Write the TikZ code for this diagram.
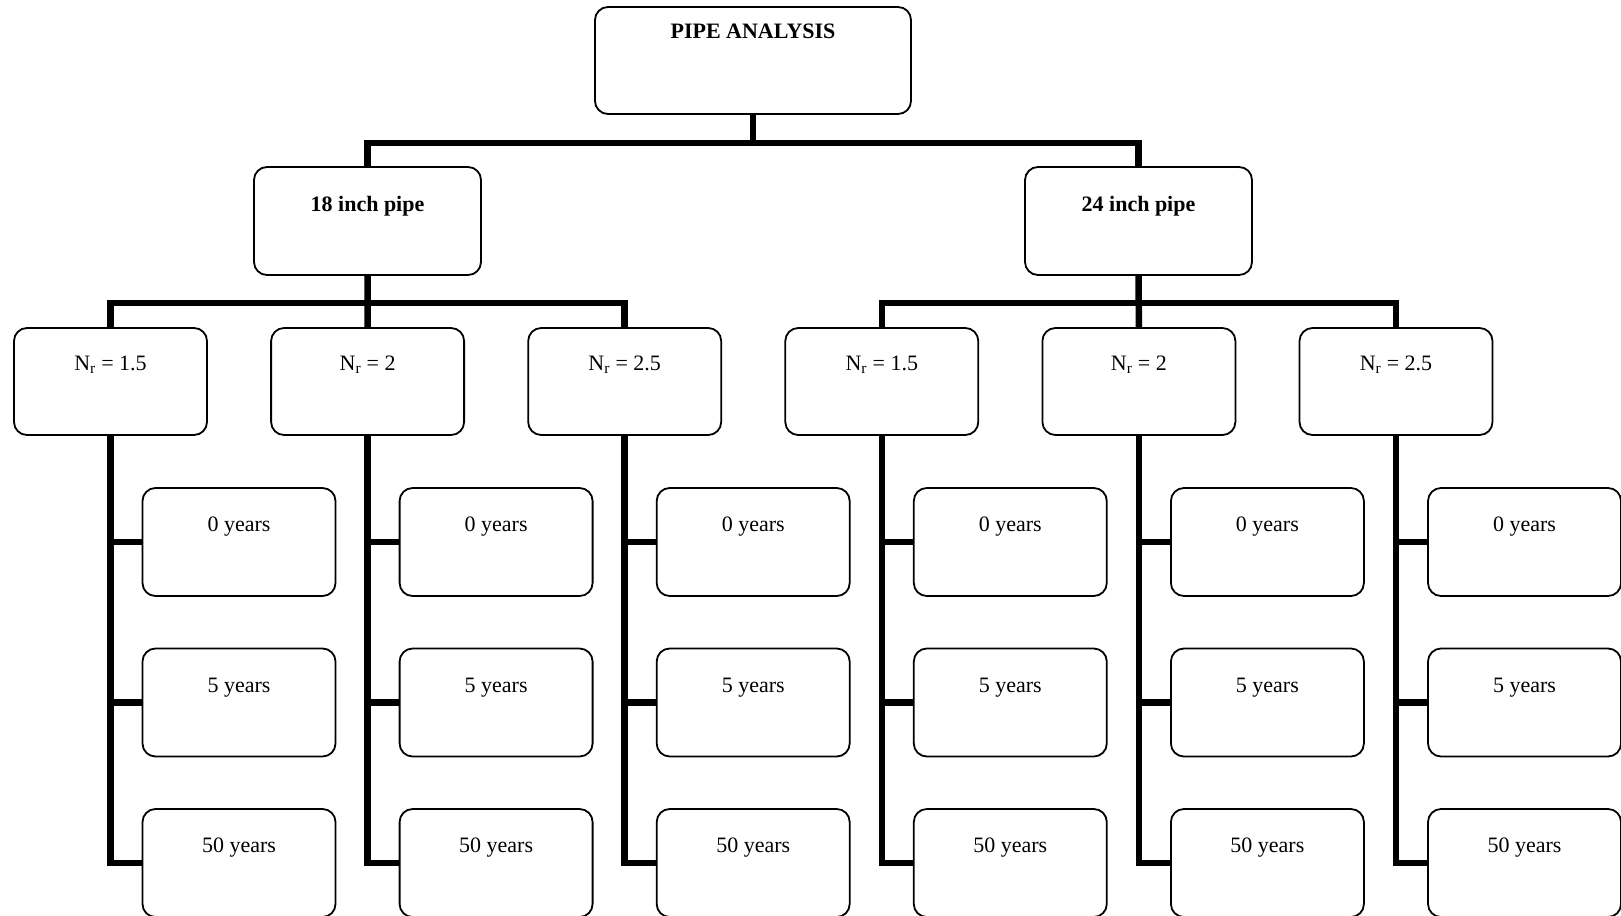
\documentclass[tikz,border=0pt]{standalone}
\usepackage{fontspec}
\setmainfont{Liberation Serif}
\usetikzlibrary{backgrounds}
\begin{document}
\begin{tikzpicture}[x=1pt,y=-1pt,
  box/.style={draw, line width=1.8pt, rounded corners=13pt, fill=white, inner sep=0pt,
    text height=15pt, text depth=36pt, minimum height=108pt,
    font=\fontsize{22}{26}\selectfont},
  rootbox/.style={box, minimum width=316pt, minimum height=107pt, text depth=58pt,
    font=\fontsize{22}{26}\selectfont\bfseries},
  pipebox/.style={box, minimum width=227pt, text depth=35pt,
    font=\fontsize{22}{26}\selectfont\bfseries},
  nrbox/.style={box, minimum width=193pt, minimum height=107pt, text depth=37pt},
  yrbox/.style={box, minimum width=193pt},
  conn/.style={line width=6.5pt, line join=miter}]
\useasboundingbox (0,0) rectangle (1621,915);

% root and pipe sizes
\node[rootbox] (top) at (753,60.5) {PIPE ANALYSIS};
\node[pipebox] (p18) at (367.5,221) {18 inch pipe};
\node[pipebox] (p24) at (1138.5,221) {24 inch pipe};

% N_r cases and the ages under each
\foreach \i/\lab in {0/1.5,1/2,2/2.5,3/1.5,4/2,5/2.5} {
  \node[nrbox] (nr\i) at ({110.5+257.1*\i},381.5) {N\textsubscript{r} = \lab};
  \node[yrbox] (ya\i) at ({239+257.1*\i},542) {0 years};
  \node[yrbox] (yb\i) at ({239+257.1*\i},702.5) {5 years};
  \node[yrbox] (yc\i) at ({239+257.1*\i},863) {50 years};
}

\coordinate (bus1) at (753,143);
\coordinate (busL) at (367.5,303);
\coordinate (busR) at (1138.5,303);

\begin{scope}[on background layer]
  \draw[conn] (top.south) -- (bus1);
  \draw[conn] (p18.north) |- (bus1) -| (p24.north);
  \draw[conn] (p18.south) -- (nr1.north);
  \draw[conn] (nr0.north) |- (busL) -| (nr2.north);
  \draw[conn] (p24.south) -- (nr4.north);
  \draw[conn] (nr3.north) |- (busR) -| (nr5.north);
  \foreach \i in {0,...,5} {
    \draw[conn] (nr\i.south) |- (yc\i.west);
    \draw[conn] (nr\i.south |- ya\i.west) -- (ya\i.west);
    \draw[conn] (nr\i.south |- yb\i.west) -- (yb\i.west);
  }
\end{scope}
\end{tikzpicture}
\end{document}
